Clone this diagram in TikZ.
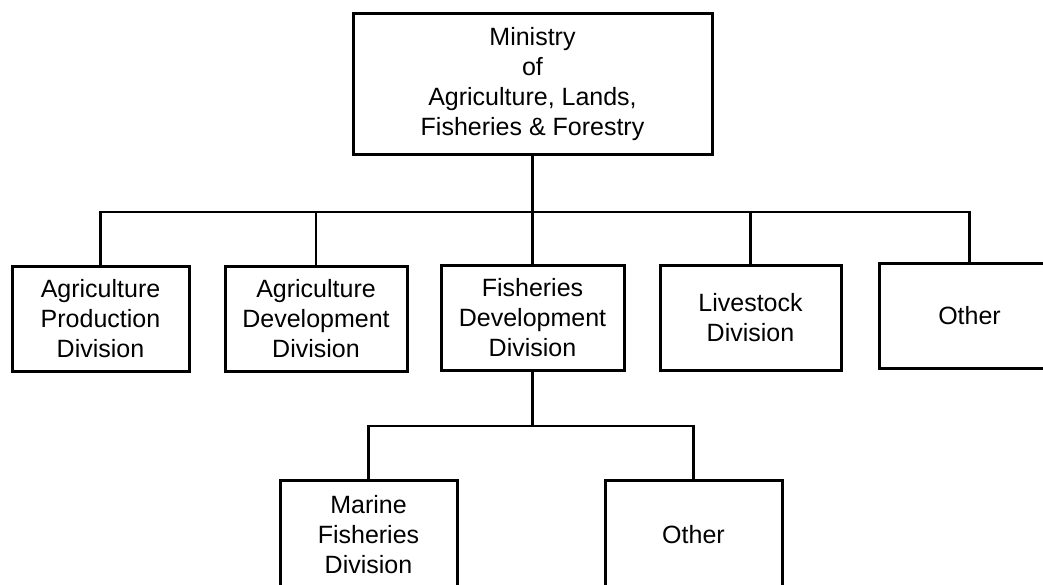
\documentclass[tikz,border=0pt]{standalone}
\usepackage{fontspec}
\setmainfont{Liberation Sans}
\begin{document}
\begin{tikzpicture}[x=1pt,y=-1pt,
  box/.style={draw=black,line width=3pt,align=center,inner sep=0pt,
    font=\fontsize{25}{30}\selectfont,minimum height=105pt},
  link/.style={draw=black,line width=2.6pt}]
\useasboundingbox (0,0) rectangle (1043,585);
\fill[white] (0,0) rectangle (1043,585);
\node[box,minimum width=359pt,minimum height=141pt] (top) at (532.5,84.5)
  {Ministry\\of\\Agriculture, Lands,\\Fisheries \& Forestry};
\node[box,minimum width=177pt] (ap) at (100.5,319) {Agriculture\\Production\\Division};
\node[box,minimum width=182pt] (ad) at (316,319) {Agriculture\\Development\\Division};
\node[box,minimum width=183pt] (fd) at (532.5,318) {Fisheries\\Development\\Division};
\node[box,minimum width=181pt] (ls) at (750.5,318) {Livestock\\Division};
\node[box,minimum width=181pt] (ot) at (969.5,316) {Other};
\node[box,minimum width=177pt,minimum height=110pt] (mf) at (368.5,535) {Marine\\Fisheries\\Division};
\node[box,minimum width=177pt,minimum height=110pt] (ot2) at (693.5,535) {Other};
\coordinate (b) at (532.5,212);
\coordinate (b2) at (532.5,426);
\draw[link] (top.south) -- (fd.north);
\draw[link] (ap.north) -- (ap.north |- b) -- (ot.north |- b) -- (ot.north);
\draw[link] (ad.north) -- (ad.north |- b);
\draw[link] (ls.north) -- (ls.north |- b);
\draw[link] (fd.south) -- (b2);
\draw[link] (mf.north) -- (mf.north |- b2) -- (ot2.north |- b2) -- (ot2.north);
\end{tikzpicture}
\end{document}
